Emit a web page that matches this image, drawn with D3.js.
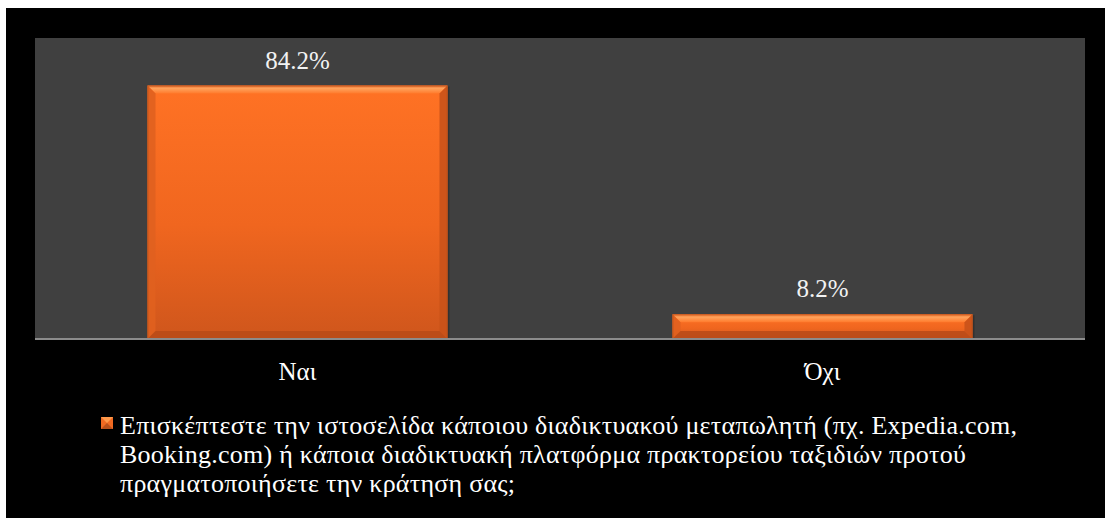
<!DOCTYPE html>
<html>
<head>
<meta charset="utf-8">
<script src="https://cdn.jsdelivr.net/npm/d3@7"></script>
<style>
  html, body { margin: 0; padding: 0; background: #ffffff; }
  svg { display: block; }
</style>
</head>
<body>
<svg id="chart" width="1105" height="518"></svg>
<script>
// Survey answers and the share of respondents for each
const categories = ["Ναι", "Όχι"];
const values = [84.2, 8.2];
const valueLabels = ["84.2%", "8.2%"];
const legendLines = [
  "Επισκέπτεστε την ιστοσελίδα κάποιου διαδικτυακού μεταπωλητή (πχ. Expedia.com,",
  "Booking.com) ή κάποια διαδικτυακή πλατφόρμα πρακτορείου ταξιδιών προτού",
  "πραγματοποιήσετε την κράτηση σας;"
];

const FONT = '"Liberation Serif"';
const W = 1105, H = 518;
const frame = { left: 6, top: 8 };
const plot = { left: 35, top: 38, right: 1085, bottom: 339 };

const svg = d3.select("#chart");
const defs = svg.append("defs");

// Body gradient of the bars
const grad = defs.append("linearGradient").attr("id", "barBody")
  .attr("x1", 0).attr("y1", 0).attr("x2", 0).attr("y2", 1);
grad.append("stop").attr("offset", "0%").attr("stop-color", "#ff7224");
grad.append("stop").attr("offset", "55%").attr("stop-color", "#f0661f");
grad.append("stop").attr("offset", "100%").attr("stop-color", "#cf561c");

const topGrad = defs.append("linearGradient").attr("id", "bevelTop")
  .attr("x1", 0).attr("y1", 0).attr("x2", 0).attr("y2", 1);
topGrad.append("stop").attr("offset", "0%").attr("stop-color", "#e86a2a");
topGrad.append("stop").attr("offset", "35%").attr("stop-color", "#ffa35c");
topGrad.append("stop").attr("offset", "100%").attr("stop-color", "#ff7a2c");

// Black frame
svg.append("rect").attr("x", frame.left).attr("y", frame.top)
  .attr("width", W - frame.left).attr("height", H - frame.top)
  .attr("fill", "#000000");

// Plot area
svg.append("rect").attr("x", plot.left).attr("y", plot.top)
  .attr("width", plot.right - plot.left).attr("height", plot.bottom - plot.top)
  .attr("fill", "#404040");

const x = d3.scaleBand().domain(categories)
  .range([plot.left, plot.right])
  .paddingInner(0.4286).paddingOuter(0.2143);
const y = d3.scaleLinear().domain([0, 100]).range([plot.bottom, plot.top]);

const bevel = 8;
const bars = svg.append("g").selectAll("g").data(categories).join("g");

bars.each(function(c, i) {
  const g = d3.select(this);
  const x0 = x(c), w = x.bandwidth();
  const y0 = y(values[i]), h = y(0) - y(values[i]);
  const x1 = x0 + w, y1 = y0 + h;
  const b = Math.min(bevel, h / 2);

  // soft shadow to the right
  g.append("rect").attr("x", x0 + 2).attr("y", y0 + 1)
    .attr("width", w).attr("height", h)
    .attr("fill", "#2a2a2a").attr("opacity", 0.6);

  g.append("rect").attr("x", x0).attr("y", y0)
    .attr("width", w).attr("height", h)
    .attr("fill", "url(#barBody)");

  const poly = pts => pts.map(p => p.join(",")).join(" ");
  // top bevel
  g.append("polygon")
    .attr("points", poly([[x0, y0], [x1, y0], [x1 - b, y0 + b], [x0 + b, y0 + b]]))
    .attr("fill", "url(#bevelTop)");
  // left bevel
  g.append("polygon")
    .attr("points", poly([[x0, y0], [x0 + b, y0 + b], [x0 + b, y1 - b], [x0, y1]]))
    .attr("fill", "#e0601f").attr("opacity", 0.9);
  // right bevel
  g.append("polygon")
    .attr("points", poly([[x1, y0], [x1, y1], [x1 - b, y1 - b], [x1 - b, y0 + b]]))
    .attr("fill", "#c9521a").attr("opacity", 0.9);
  // bottom bevel
  g.append("polygon")
    .attr("points", poly([[x0, y1], [x0 + b, y1 - b], [x1 - b, y1 - b], [x1, y1]]))
    .attr("fill", "#b84a18").attr("opacity", 0.85);
  // thin dark outline
  g.append("rect").attr("x", x0 + 0.5).attr("y", y0 + 0.5)
    .attr("width", w - 1).attr("height", h - 1)
    .attr("fill", "none").attr("stroke", "#b4501c").attr("stroke-width", 1).attr("opacity", 0.6);

  // value label
  g.append("text")
    .attr("x", x0 + w / 2).attr("y", y0 - 17)
    .attr("text-anchor", "middle")
    .style("font-family", FONT)
    .style("font-size", "25px")
    .style("fill", "#f2f2f2")
    .text(valueLabels[i]);
});

// Category axis
const axis = svg.append("g").attr("transform", `translate(0,${plot.bottom})`)
  .call(d3.axisBottom(x).tickSize(0).tickPadding(23));
axis.attr("font-family", null).attr("font-size", null);
axis.select(".domain")
  .attr("d", `M${plot.left},0H${plot.right}`)
  .attr("stroke", "#8c8c8c").attr("stroke-width", 2);
axis.selectAll(".tick text")
  .style("font-family", FONT)
  .style("font-size", "25px")
  .style("fill", "#ffffff");

// Legend
const legend = svg.append("g");
const mk = { x: 101, y: 417, s: 12 };
legend.append("rect").attr("x", mk.x).attr("y", mk.y).attr("width", mk.s).attr("height", mk.s)
  .attr("fill", "#f06a22");
legend.append("polygon")
  .attr("points", `${mk.x},${mk.y} ${mk.x + mk.s},${mk.y} ${mk.x + mk.s / 2},${mk.y + mk.s / 2}`)
  .attr("fill", "#ff9a4c");
legend.append("polygon")
  .attr("points", `${mk.x},${mk.y + mk.s} ${mk.x + mk.s},${mk.y + mk.s} ${mk.x + mk.s / 2},${mk.y + mk.s / 2}`)
  .attr("fill", "#b9501a");

legend.selectAll("text.legend-line").data(legendLines).join("text")
  .attr("class", "legend-line")
  .attr("x", 120)
  .attr("y", (d, i) => 434 + i * 29)
  .style("font-family", FONT)
  .style("font-size", "26px")
  .style("letter-spacing", "0.25px")
  .style("fill", "#ffffff")
  .text(d => d);
</script>
</body>
</html>
